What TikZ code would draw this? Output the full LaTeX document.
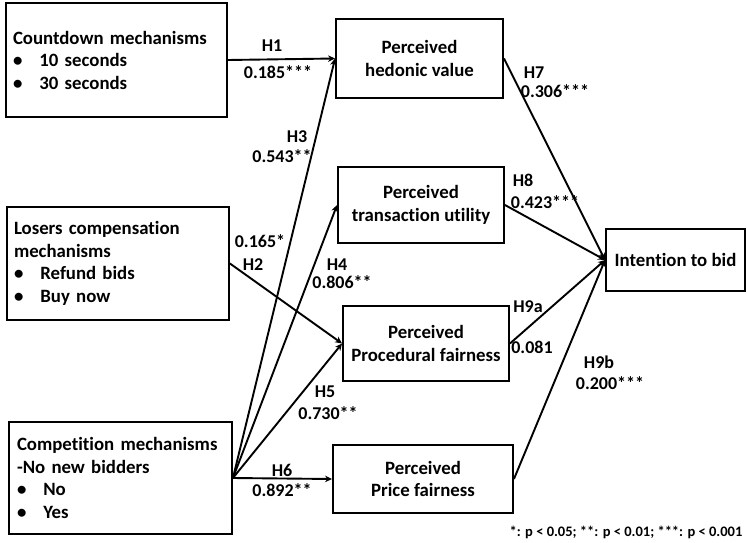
\documentclass[tikz,border=0pt]{standalone}
\usepackage{fontspec}
\setmainfont{Carlito}[Ligatures=NoCommon]
\usetikzlibrary{arrows.meta}
\begin{document}
\begin{tikzpicture}[x=1pt,y=-1pt,
  box/.style={draw, line width=1.9pt, rectangle, inner sep=0pt,
    font=\fontsize{18.8}{22.5}\selectfont\bfseries, align=center},
  listbox/.style={box, align=left, inner xsep=7pt},
  lbl/.style={font=\fontsize{18}{20}\selectfont\bfseries, inner sep=0pt},
  note/.style={font=\fontsize{14.5}{16}\selectfont\bfseries, inner sep=0pt},
  link/.style={line width=1.9pt, -{Stealth[length=7pt,width=6.5pt]}}]
\useasboundingbox (0,0) rectangle (747,543);
\newcommand{\bul}{\textbullet\hspace{17pt}}

% independent variables
\node[listbox, text width=207pt, minimum height=114pt] (count) at (116.5,60)
  {Countdown mechanisms\\ \bul 10 seconds\\ \bul 30 seconds};
\node[listbox, text width=208pt, minimum height=113pt] (loser) at (118,263.5)
  {Losers compensation\\ mechanisms\\ \bul Refund bids\\ \bul Buy now};
\node[listbox, inner xsep=8pt, text width=207pt, minimum height=112pt] (comp) at (120.5,478)
  {Competition mechanisms\\ -No new bidders\\ \bul No\\ \bul Yes};

% mediators
\node[box, minimum width=167pt, minimum height=79pt] (hed) at (419.5,58.5)
  {Perceived\\ hedonic value};
\node[box, minimum width=166pt, minimum height=76pt] (trans) at (421,205)
  {Perceived\\ transaction utility};
\node[box, minimum width=166pt, minimum height=75pt] (proc) at (426,343.5)
  {Perceived\\ Procedural fairness};
\node[box, minimum width=180pt, minimum height=68pt] (price) at (423,479)
  {Perceived\\ Price fairness};

% outcome
\node[box, minimum width=139pt, minimum height=62pt] (intent) at (675.5,260)
  {Intention to bid};

% paths
\draw[link] (count.east) -- (hed.west);
\draw[link] (comp.east) -- (hed.west);
\draw[link] (comp.east) -- (trans.west);
\draw[link] (comp.east) -- (proc.west);
\draw[link] (comp.east) -- (price.west);
\draw[link] (loser.east) -- (proc.west);
\draw[link] (hed.east) -- (intent.west);
\draw[link] (trans.east) -- (intent.west);
\draw[link] (proc.east) -- (intent.west);
\draw[link] (price.east) -- (intent.west);

% path labels
\node[lbl] (h1) at (272,46) {H1};
\node[lbl] (c1) at (278,72) {0.185***};
\node[lbl] (h3) at (297,137) {H3};
\node[lbl] (c3) at (282,156) {0.543**};
\node[lbl] (c2) at (260,241) {0.165*};
\node[lbl] (h2) at (253,265) {H2};
\node[lbl] (h4) at (337,265) {H4};
\node[lbl] (c4) at (342,282) {0.806**};
\node[lbl] (h5) at (325,392) {H5};
\node[lbl] (c5) at (328,413) {0.730**};
\node[lbl] (h6) at (282,470) {H6};
\node[lbl] (c6) at (282,490) {0.892**};
\node[lbl] (h7) at (534,73) {H7};
\node[lbl] (c7) at (555,91) {0.306***};
\node[lbl] (h8) at (523,180) {H8};
\node[lbl] (c8) at (545,202) {0.423***};
\node[lbl] (h9a) at (528,307) {H9a};
\node[lbl] (c9a) at (532,347) {0.081};
\node[lbl] (h9b) at (599,362) {H9b};
\node[lbl] (c9b) at (610,383) {0.200***};

\node[note] (sig) at (626,532) {*: p < 0.05; **: p < 0.01; ***: p < 0.001};
\end{tikzpicture}
\end{document}
